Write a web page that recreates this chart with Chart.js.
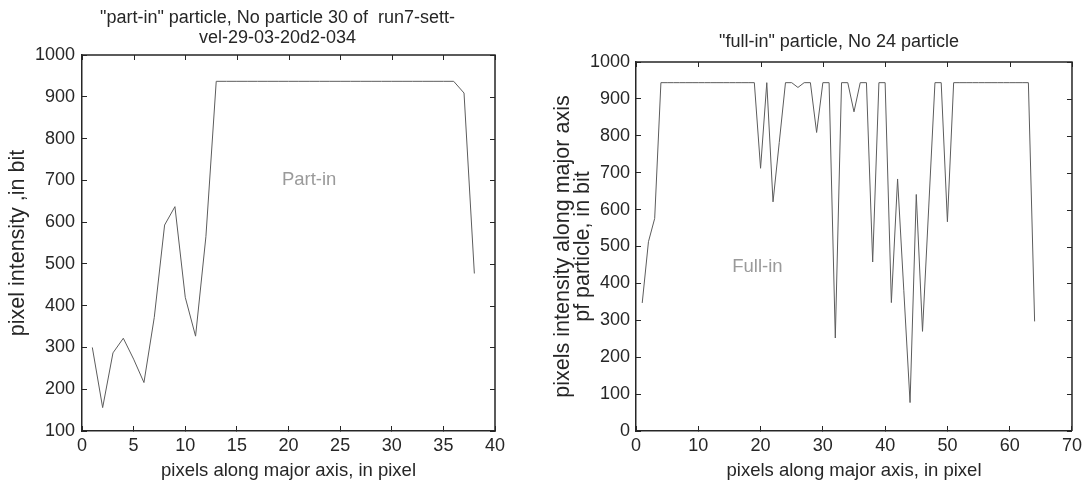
<!DOCTYPE html>
<html>
<head>
<meta charset="utf-8">
<script src="https://cdn.jsdelivr.net/npm/chart.js@4.4.1/dist/chart.umd.min.js"></script>
<style>
  html, body { margin: 0; padding: 0; background: #fff; }
  body { width: 1091px; height: 481px; position: relative; overflow: hidden; }
  .panel { position: absolute; top: 0; height: 481px; }
  #partPanel { left: 0; width: 540px; }
  #fullPanel { left: 540px; width: 551px; }
</style>
</head>
<body>
<div class="panel" id="partPanel"><canvas id="partChart"></canvas></div>
<div class="panel" id="fullPanel"><canvas id="fullChart"></canvas></div>
<script>
// intensity profile along the major axis, one value per pixel (pixel 1..N)
const partInIntensity = [
  300, 156, 287, 322, 272, 216, 372, 593, 637, 420, 327, 565,
  937, 937, 937, 937, 937, 937, 937, 937, 937, 937, 937, 937,
  937, 937, 937, 937, 937, 937, 937, 937, 937, 937, 937, 937,
  909, 477
];
const fullInIntensity = [
  347, 513, 576,
  944, 944, 944, 944, 944, 944, 944, 944, 944, 944, 944, 944, 944, 944, 944, 944,
  712, 944, 621, 782, 944, 944, 931, 944, 944, 809, 944, 944, 252, 944, 944, 865,
  944, 944, 458, 944, 944, 348, 683, 380, 77, 641, 270, 607, 944, 944, 567,
  944, 944, 944, 944, 944, 944, 944, 944, 944, 944, 944, 944, 944,
  297
];

const partXTicks = [0, 5, 10, 15, 20, 25, 30, 35, 40];
const partYTicks = [100, 200, 300, 400, 500, 600, 700, 800, 900, 1000];
const fullXTicks = [0, 10, 20, 30, 40, 50, 60, 70];
const fullYTicks = [0, 100, 200, 300, 400, 500, 600, 700, 800, 900, 1000];

const partTitle = ['"part-in" particle, No particle 30 of  run7-sett-', 'vel-29-03-20d2-034'];
const fullTitle = '"full-in" particle, No 24 particle';
const xTitle = 'pixels along major axis, in pixel';
const partYTitle = 'pixel intensity ,in bit';
const fullYTitle = ['pixels intensity along major axis', 'pf particle, in bit'];

const partNote = { text: 'Part-in', x: 22, y: 700 };
const fullNote = { text: 'Full-in', x: 19.5, y: 445 };

const FONT = '"Liberation Sans", Arial, Helvetica, sans-serif';
const INK = '#262626';

// box round the plot with inward ticks on top and right, plus the grey note
function framePlugin(note) {
  return {
    id: 'frame',
    afterDraw(chart) {
      const { ctx, chartArea: a, scales: { x, y } } = chart;
      ctx.save();
      ctx.strokeStyle = INK;
      ctx.lineWidth = 1.5;
      ctx.beginPath();
      ctx.moveTo(a.left, a.top);
      ctx.lineTo(a.right, a.top);
      ctx.lineTo(a.right, a.bottom);
      ctx.stroke();
      ctx.lineWidth = 1;
      ctx.beginPath();
      x.ticks.forEach(t => {
        const px = Math.round(x.getPixelForValue(t.value)) + 0.5;
        ctx.moveTo(px, a.top);
        ctx.lineTo(px, a.top + 5);
      });
      y.ticks.forEach(t => {
        const py = Math.round(y.getPixelForValue(t.value)) + 0.5;
        ctx.moveTo(a.right, py);
        ctx.lineTo(a.right - 5, py);
      });
      ctx.stroke();
      ctx.fillStyle = '#9a9a9a';
      ctx.font = '18.5px ' + FONT;
      ctx.textAlign = 'center';
      ctx.textBaseline = 'middle';
      ctx.fillText(note.text, x.getPixelForValue(note.x), y.getPixelForValue(note.y));
      ctx.restore();
    }
  };
}

// move the title block sideways
function nudgeTitle(dx) {
  return {
    id: 'nudgeTitle',
    afterLayout(chart) {
      const t = chart.titleBlock;
      if (t) { t.left += dx; t.right += dx; }
    }
  };
}

function axis(ticksList, cfg) {
  return {
    type: 'linear',
    min: ticksList[0],
    max: ticksList[ticksList.length - 1],
    afterBuildTicks: s => { s.ticks = ticksList.map(v => ({ value: v })); },
    afterFit: cfg.fit,
    grid: { drawOnChartArea: false, drawTicks: true, tickLength: -5, color: INK, lineWidth: 1 },
    border: { color: INK, width: 1.5 },
    ticks: {
      color: INK, autoSkip: false, maxRotation: 0, padding: cfg.tickPad,
      font: { family: FONT, size: 18 },
      callback: v => String(v)
    },
    title: {
      display: true, text: cfg.title, color: INK, padding: cfg.titlePad,
      font: { family: FONT, size: cfg.titleSize, lineHeight: '20px' }
    }
  };
}

function profileChart(id, values, o) {
  return new Chart(document.getElementById(id), {
    type: 'line',
    data: {
      datasets: [{
        data: values.map((v, i) => ({ x: i + 1, y: v })),
        borderColor: '#5c5c5c',
        borderWidth: 1,
        pointRadius: 0,
        tension: 0,
        fill: false
      }]
    },
    options: {
      responsive: true,
      maintainAspectRatio: false,
      animation: false,
      layout: { padding: o.padding },
      plugins: {
        legend: { display: false },
        tooltip: { enabled: false },
        title: {
          display: true, text: o.title, color: INK, padding: o.titlePad,
          font: { family: FONT, size: 18, weight: 'normal', lineHeight: '20px' }
        }
      },
      scales: {
        x: axis(o.xTicks, { fit: s => { s.height = 50; }, tickPad: 9, title: xTitle, titleSize: 18.5, titlePad: 0 }),
        y: axis(o.yTicks, { fit: s => { s.width = o.yWidth; }, tickPad: o.yTickPad, title: o.yTitle, titleSize: 21.5, titlePad: { top: o.yTitleTop, bottom: 0 } })
      }
    },
    plugins: [framePlugin(o.note), nudgeTitle(o.titleDx)]
  });
}

profileChart('partChart', partInIntensity, {
  title: partTitle, titlePad: { top: 8, bottom: 7 }, titleDx: 30,
  padding: { left: 0, right: 45, top: 0, bottom: 0 },
  xTicks: partXTicks, yTicks: partYTicks, yWidth: 82, yTickPad: 12,
  yTitle: partYTitle, yTitleTop: 8, note: partNote
});

profileChart('fullChart', fullInIntensity, {
  title: fullTitle, titlePad: { top: 32, bottom: 10 }, titleDx: 28,
  padding: { left: 0, right: 9, top: 0, bottom: 0 },
  xTicks: fullXTicks, yTicks: fullYTicks, yWidth: 96, yTickPad: 11,
  yTitle: fullYTitle, yTitleTop: 13, note: fullNote
});
</script>
</body>
</html>
